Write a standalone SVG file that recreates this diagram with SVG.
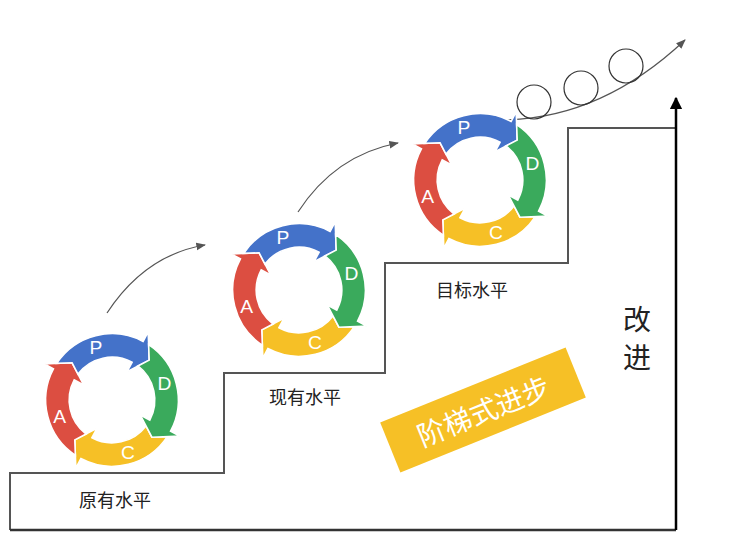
<svg xmlns="http://www.w3.org/2000/svg" width="730" height="556" viewBox="0 0 730 556">
<defs>
<style>
.seg{stroke:#fff;stroke-width:1.5}
.lt{font-family:"Liberation Sans",Arial,sans-serif;font-size:18px;fill:#fff;text-anchor:middle;dominant-baseline:central}
.lb{font-family:"Noto Sans CJK SC",sans-serif;font-size:18px;fill:#222;text-anchor:middle}
.cv{fill:none;stroke:#555;stroke-width:1.2}
</style>
<path id="seg" d="M61.71,5.97 A62,62 0 0 1 0,62 L0,72 L-13.2,49.26 L0,30 L0,40 A40,40 0 0 0 39.47,6.49 L49.26,13.2 Z"/>
<g id="wheel">
<use href="#seg" class="seg" fill="#f6c026" transform="rotate(28)"/>
<use href="#seg" class="seg" fill="#dc4e41" transform="rotate(118)"/>
<use href="#seg" class="seg" fill="#4472c9" transform="rotate(208)"/>
<use href="#seg" class="seg" fill="#3aaa5c" transform="rotate(298)"/>
<text class="lt" x="-15" y="-49">P</text>
<text class="lt" x="49" y="-15">D</text>
<text class="lt" x="15" y="49">C</text>
<text class="lt" x="-49" y="15">A</text>
</g>
<marker id="ah" viewBox="0 0 10 10" refX="9" refY="5" markerWidth="8" markerHeight="8" orient="auto"><path d="M0,1 L10,5 L0,9 Z" fill="#555"/></marker>
<marker id="bh" viewBox="0 0 10 10" refX="9" refY="5" markerWidth="5" markerHeight="5" orient="auto"><path d="M0,0 L10,5 L0,10 Z" fill="#000"/></marker>
</defs>
<g id="connectors">
<path d="M10,530 V473 H224 V373 H385 V263 H568 V128 H676" fill="none" stroke="#555" stroke-width="2"/>
<line x1="10" y1="530" x2="676" y2="530" stroke="#333" stroke-width="2.5"/>
<line x1="676" y1="530" x2="676" y2="98" stroke="#000" stroke-width="2.5" marker-end="url(#bh)"/>
<path class="cv" d="M107,313 Q145,255 205,245" marker-end="url(#ah)"/>
<path class="cv" d="M298,212 Q335,155 398,143" marker-end="url(#ah)"/>
<path class="cv" d="M500,120 Q600,120 685,40" marker-end="url(#ah)"/>
</g>
<g id="balls" fill="none" stroke="#333" stroke-width="1.2">
<circle cx="534" cy="102" r="17"/>
<circle cx="581" cy="88" r="17"/>
<circle cx="626" cy="66" r="17"/>
</g>
<g id="wheel1"><use href="#wheel" transform="translate(112,400) scale(1.07)"/></g>
<g id="wheel2"><use href="#wheel" transform="translate(299,290) scale(1.07)"/></g>
<g id="wheel3"><use href="#wheel" transform="translate(480,180) scale(1.07)"/></g>
<g id="labels">
<text class="lb" x="115" y="507">原有水平</text>
<text class="lb" x="305" y="404">现有水平</text>
<text class="lb" x="472" y="297">目标水平</text>
<text class="lb" style="font-size:28px" x="637" y="330">改</text>
<text class="lb" style="font-size:28px" x="637" y="368">进</text>
</g>
<g id="banner" transform="translate(483,410) rotate(-22)">
<rect x="-100" y="-27" width="200" height="54" fill="#f6c026"/>
<text x="0" y="0" font-family="Noto Sans CJK SC,sans-serif" font-size="28" fill="#fff" text-anchor="middle" dominant-baseline="central">阶梯式进步</text>
</g>
</svg>
